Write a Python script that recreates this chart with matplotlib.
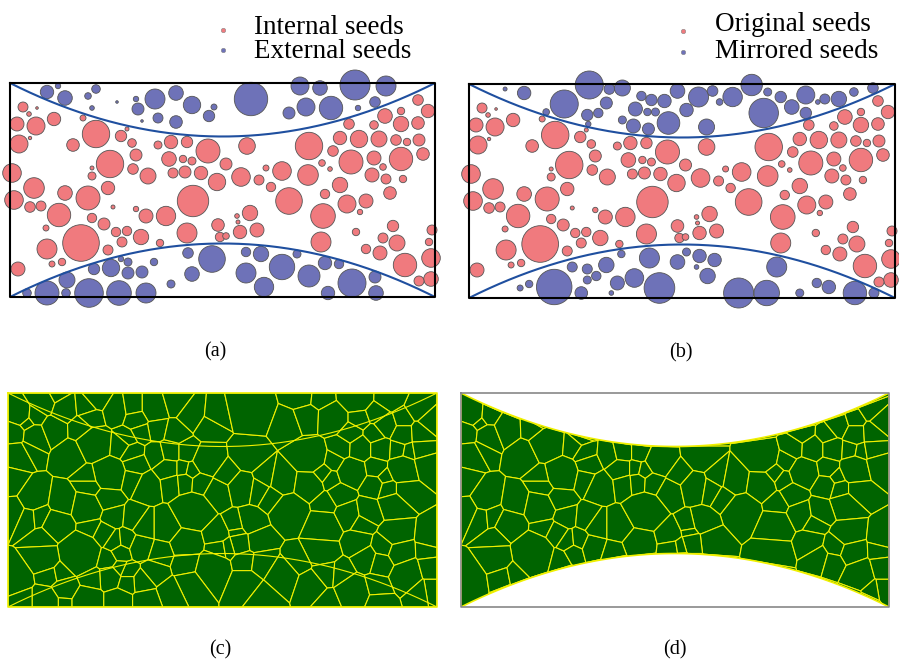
import matplotlib
matplotlib.use("Agg")
import matplotlib.pyplot as plt
from matplotlib.patches import Circle, Polygon
from matplotlib.collections import PatchCollection, PolyCollection
from matplotlib.lines import Line2D
import numpy as np

# domain (panel units, y pointing down) and the two curves
W, H = 425.0, 214.0
depth = 53.5

# seeds: (x, y, radius)
internal_seeds = [
    (13, 24, 5), (19, 31, 2.3), (27, 25, 1.3), (7, 41, 7), (26, 43, 9), (44, 36, 6.7),
    (9, 61, 9), (20, 55, 1.7), (63, 62, 6.3), (86, 51, 13.7), (73, 35, 3), (117, 46, 2),
    (111, 53, 5.7), (122, 60, 4.3), (126, 72, 6), (100, 81, 13.7), (123, 86, 5.3),
    (82, 85, 2), (82, 93, 4), (138, 93, 8), (148, 62, 4), (161, 59, 6.7), (177, 59, 5.7),
    (198, 68, 12), (159, 76, 7.3), (173, 76, 3.7), (182, 78, 4), (163, 90, 5),
    (175, 89, 6), (191, 90, 6.7), (207, 99, 8.7), (2, 90, 9.3), (24, 105, 10.3),
    (4, 117, 9.3), (20, 124, 5.3), (31, 123, 5), (55, 110, 7.3), (78, 115, 12),
    (98, 105, 6.7), (49, 132, 11.7), (103, 124, 2), (82, 135, 4.7), (94, 141, 6),
    (36, 145, 3), (71, 160, 18.3), (37, 166, 10), (8, 186, 7), (42, 181, 3),
    (52, 179, 3.7), (98, 167, 5), (106, 149, 4.7), (117, 148, 4.7), (112, 159, 5),
    (131, 154, 7.7), (126, 126, 2.7), (136, 133, 7), (156, 133, 9.7), (183, 118, 15.7),
    (177, 150, 10), (150, 160, 3.7), (208, 142, 6.3), (210, 154, 4.7),
    (237, 63, 8.3), (216, 81, 6), (231, 94, 9.3), (256, 85, 3), (272, 88, 9.3),
    (249, 97, 5), (261, 104, 4.7), (298, 92, 10.3), (299, 63, 13.7), (279, 118, 13.3),
    (315, 111, 4.7), (313, 133, 12.3), (330, 102, 7.7), (323, 68, 5.3), (312, 80, 3.3),
    (320, 86, 2.3), (330, 55, 6.7), (339, 41, 5.3), (341, 79, 12), (349, 56, 8.7),
    (364, 42, 4.3), (375, 33, 7.3), (391, 28, 3.7), (408, 17, 5.3), (418, 28, 6.7),
    (369, 56, 8), (386, 57, 5.3), (391, 41, 7.7), (408, 40, 6.3), (397, 59, 3.7),
    (409, 57, 6), (364, 75, 7), (373, 84, 3.3), (391, 76, 11.7), (413, 71, 6.3),
    (362, 92, 7), (376, 96, 5), (393, 96, 3.7), (380, 110, 6.3), (337, 121, 9),
    (356, 118, 7), (350, 129, 2.7), (240, 130, 7.7), (227, 133, 2.3), (228, 139, 2),
    (247, 147, 7), (230, 149, 6.7), (216, 153, 3.3), (311, 159, 10), (346, 149, 3.7),
    (383, 143, 5.7), (373, 155, 5), (387, 160, 8), (356, 166, 4.7), (370, 170, 7),
    (395, 182, 11.7), (422, 147, 5), (419, 159, 3.7), (421, 175, 9.3), (421, 196, 7.3),
    (409, 198, 5),
]

external_seeds = [
    (37, 9, 6.7), (48, 3, 2.7), (55, 15, 7.3), (78, 13, 3.3), (86, 6, 4.3), (82, 25, 2.3),
    (107, 19, 1.3), (126, 16, 2.7), (145, 16, 10), (166, 10, 7.3), (128, 26, 6),
    (148, 35, 5), (166, 39, 6.3), (182, 22, 8.7), (199, 33, 5.7), (204, 24, 3),
    (132, 38, 1.3), (241, 16, 16.7), (290, 3, 9), (310, 5, 7.3), (345, 2, 15),
    (376, 3, 10), (279, 30, 6), (296, 24, 9), (321, 25, 11.7), (348, 25, 2.7),
    (365, 19, 5.3),
    (178, 170, 5.3), (202, 176, 13.3), (144, 179, 3.7), (182, 191, 7.3), (161, 201, 4),
    (132, 189, 6), (118, 179, 4), (111, 176, 2.7), (101, 185, 8.7), (118, 190, 6),
    (84, 186, 5.7), (57, 197, 8), (56, 210, 4.3), (37, 210, 12), (17, 210, 4.3),
    (79, 210, 14.3), (109, 210, 12.3), (136, 210, 10), (236, 169, 4.7), (251, 171, 7.7),
    (287, 171, 4), (272, 184, 12.7), (236, 190, 10), (254, 204, 9.7), (299, 193, 11),
    (315, 180, 6.7), (329, 181, 4.7), (318, 210, 6.7), (342, 200, 14), (365, 194, 6),
    (366, 210, 7.3),
]

mirrored_seeds = [
    (36, 5, 2), (55, 9, 6.7), (95, 20, 14), (120, 1, 14), (140, 5, 5.3), (153, 4, 8),
    (137, 19, 6), (118, 31, 5.7), (129, 29, 4.7), (77, 28, 3.3), (119, 40, 2.7),
    (153, 36, 4), (164, 42, 7), (179, 45, 6), (166, 25, 7), (178, 28, 3.7), (186, 28, 4),
    (172, 12, 4.7), (182, 16, 5.7), (195, 17, 6.7), (199, 39, 11.3), (208, 7, 7.3),
    (229, 13, 10), (243, 7, 5.3), (250, 18, 3.3), (263, 13, 9.7), (282, 1, 10.7),
    (294, 29, 14.7), (298, 8, 4), (311, 13, 5.7), (322, 23, 7.3), (336, 11, 9),
    (336, 29, 5.7), (348, 18, 2.3), (355, 15, 5), (369, 15, 7.7), (384, 8, 4.3),
    (403, 4, 5.3), (217, 26, 6.7), (237, 43, 8),
    (152, 170, 3.7), (180, 174, 10), (137, 181, 7.7), (118, 185, 5), (103, 183, 5),
    (127, 192, 4.7), (118, 196, 4), (148, 199, 7), (165, 194, 9.3), (190, 204, 15.3),
    (85, 203, 17.7), (112, 209, 6.3), (60, 200, 3.7), (51, 204, 3), (142, 209, 2.3),
    (217, 168, 4), (230, 172, 6.7), (245, 176, 6.7), (208, 178, 7.3), (227, 183, 2.3),
    (238, 192, 7.7), (307, 183, 10), (269, 209, 15), (297, 209, 12.7), (330, 209, 4),
    (347, 199, 4.7), (359, 203, 6.7), (385, 209, 11.7), (404, 209, 5),
]

legend_a = ["Internal seeds", "External seeds"]
legend_b = ["Original seeds", "Mirrored seeds"]
captions = ["(a)", "(b)", "(c)", "(d)"]

red = "#f07a7e"
blue = "#6e72b8"
curve_col = "#1f4f9f"
green = "#006400"
yellow = "#f0f000"


def top_curve(x):
    u = (x - W / 2) / (W / 2)
    return depth * (1 - u ** 2)


def bottom_curve(x):
    return H - top_curve(x)


def clip_half(poly, a0, a1, b):
    out = []
    n = len(poly)
    for i in range(n):
        p, q = poly[i], poly[(i + 1) % n]
        fp = a0 * p[0] + a1 * p[1] - b
        fq = a0 * q[0] + a1 * q[1] - b
        if fp <= 0:
            out.append(p)
        if (fp <= 0) != (fq <= 0):
            t = fp / (fp - fq)
            out.append((p[0] + t * (q[0] - p[0]), p[1] + t * (q[1] - p[1])))
    return out


def power_cells(seeds):
    # power diagram of weighted seeds, clipped to the rectangle
    cells = []
    for i, (xi, yi, ri) in enumerate(seeds):
        poly = [(0, 0), (W, 0), (W, H), (0, H)]
        for j, (xj, yj, rj) in enumerate(seeds):
            if i == j:
                continue
            a0, a1 = 2 * (xj - xi), 2 * (yj - yi)
            b = xj ** 2 + yj ** 2 - xi ** 2 - yi ** 2 - rj ** 2 + ri ** 2
            poly = clip_half(poly, a0, a1, b)
            if len(poly) < 3:
                break
        if len(poly) >= 3:
            cells.append(poly)
    return cells


def draw_seeds(ax, seeds, color):
    circles = [Circle((x, y), r) for x, y, r in seeds]
    pc = PatchCollection(circles, facecolor=color, edgecolor="#555555",
                         linewidth=0.6, clip_on=False, zorder=2)
    ax.add_collection(pc)


def setup(ax):
    ax.set_xlim(0, W)
    ax.set_ylim(H, 0)
    ax.set_axis_off()


xs = np.linspace(0, W, 300)

plt.rcParams["font.family"] = ["Liberation Serif", "DejaVu Serif"]
fig = plt.figure(figsize=(8.99, 6.66), dpi=100)

ax_a = fig.add_axes([10 / 899, 1 - 297 / 666, 425 / 899, 214 / 666])
ax_b = fig.add_axes([469 / 899, 1 - 298 / 666, 426 / 899, 214 / 666])
ax_c = fig.add_axes([8 / 899, 1 - 607 / 666, 429 / 899, 214 / 666])
ax_d = fig.add_axes([461 / 899, 1 - 607 / 666, 428 / 899, 214 / 666])

# (a), (b) seeds and curves
for ax, inner, outer in [(ax_a, internal_seeds, external_seeds),
                         (ax_b, internal_seeds, mirrored_seeds)]:
    setup(ax)
    draw_seeds(ax, inner, red)
    draw_seeds(ax, outer, blue)
    ax.plot(xs, top_curve(xs), color=curve_col, lw=1.5, zorder=3)
    ax.plot(xs, bottom_curve(xs), color=curve_col, lw=1.5, zorder=3)
    ax.plot([0, W, W, 0, 0], [0, 0, H, H, 0], color="black", lw=1.5,
            zorder=4, clip_on=False)

# (c) tessellation of all seeds
setup(ax_c)
cells_c = power_cells(internal_seeds + external_seeds)
ax_c.add_collection(PolyCollection(cells_c, facecolor=green, edgecolor=yellow,
                                   linewidth=0.8))
ax_c.plot(xs, top_curve(xs), color=yellow, lw=0.8)
ax_c.plot(xs, bottom_curve(xs), color=yellow, lw=0.8)
ax_c.plot([0, W, W, 0, 0], [0, 0, H, H, 0], color=yellow, lw=1.2, clip_on=False)

# (d) tessellation with mirrored seeds, clipped to the domain
setup(ax_d)
ax_d.plot([0, W, W, 0, 0], [0, 0, H, H, 0], color="#888888", lw=1.2, clip_on=False)
region = list(zip(xs, top_curve(xs))) + list(zip(xs[::-1], bottom_curve(xs[::-1])))
clip_poly = Polygon(region, closed=True, transform=ax_d.transData)
cells_d = power_cells(internal_seeds + mirrored_seeds)
pc_d = PolyCollection(cells_d, facecolor=green, edgecolor=yellow, linewidth=0.8)
ax_d.add_collection(pc_d)
pc_d.set_clip_path(clip_poly)
ax_d.add_patch(Polygon(region, closed=True, fill=False, edgecolor=yellow, lw=1.2))

# legends (marker px, text left px, baselines px)
for labels, mx, my, tx, ty in [(legend_a, 223, (30, 50), 254, (34, 58)),
                               (legend_b, 683, (31, 52), 715, (31, 58))]:
    for lab, col, m_y, t_y in zip(labels, (red, blue), my, ty):
        fig.add_artist(Line2D([mx / 899], [1 - m_y / 666], transform=fig.transFigure,
                              ls="none", marker="o", ms=3.2, mfc=col,
                              mec="#888888", mew=0.4))
        fig.text(tx / 899, 1 - t_y / 666, lab, ha="left", va="baseline", fontsize=19.5)

# captions
for (x, y), s in zip([(215, 352), (681, 353), (220, 650), (675, 650)], captions):
    fig.text(x / 899, 1 - y / 666, s, ha="center", va="center", fontsize=14.5)

fig.savefig("out.png", dpi=100)
